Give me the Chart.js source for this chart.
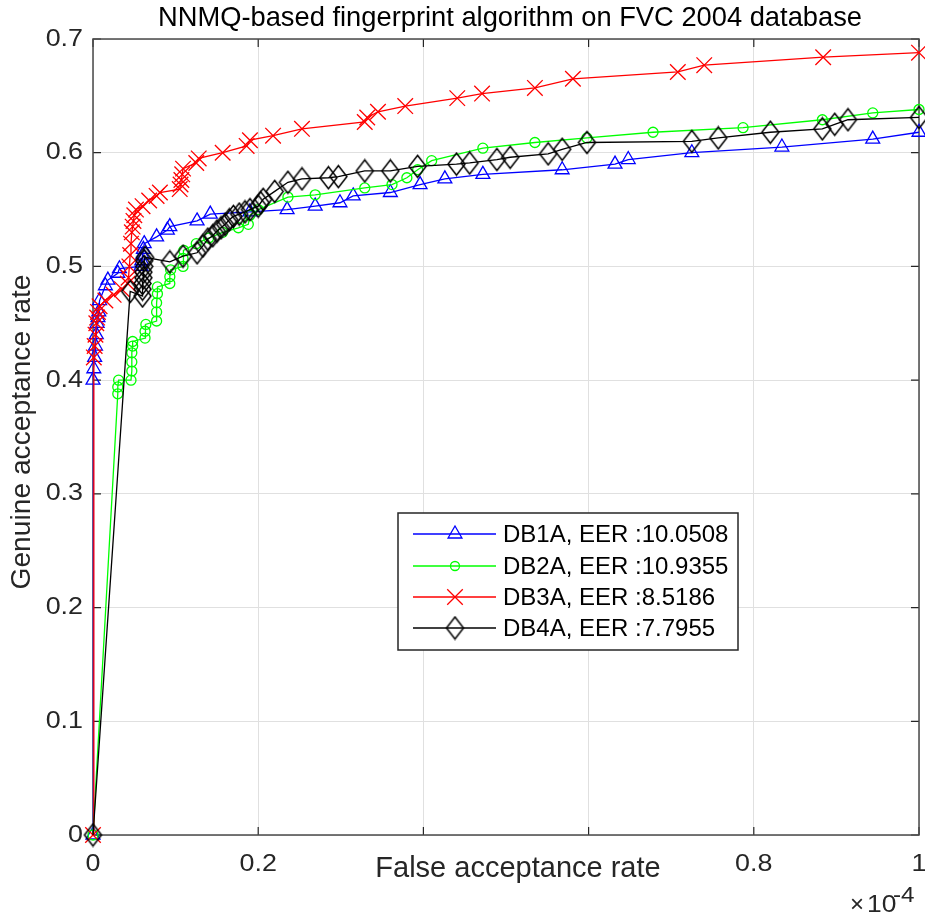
<!DOCTYPE html>
<html><head><meta charset="utf-8">
<script src="https://cdn.jsdelivr.net/npm/chart.js@4/dist/chart.umd.min.js"></script>
<style>html,body{margin:0;padding:0;background:#fff;overflow:hidden;}#wrap{width:925px;height:918px;}canvas{display:block;}</style>
</head><body><div id="wrap"><canvas id="c" width="925" height="918"></canvas></div>
<script>
// ---------- data ----------
const chartTitle = 'NNMQ-based fingerprint algorithm on FVC 2004 database';
const xAxisLabel = 'False acceptance rate';
const yAxisLabel = 'Genuine acceptance rate';
const xTicks = [0, 0.2, 0.4, 0.6, 0.8, 1];
const xTickLabels = ['0', '0.2', '0.4', '0.6', '0.8', '1'];
const yTicks = [0, 0.1, 0.2, 0.3, 0.4, 0.5, 0.6, 0.7];
const yTickLabels = ['0', '0.1', '0.2', '0.3', '0.4', '0.5', '0.6', '0.7'];
const xExponent = '-4';
const seriesNames = ['DB1A, EER :10.0508', 'DB2A, EER :10.9355', 'DB3A, EER :8.5186', 'DB4A, EER :7.7955'];

const db1aFar = [0, 0, 0.001, 0.002, 0.003, 0.004, 0.005, 0.006, 0.007, 0.008, 0.015, 0.018, 0.03, 0.032, 0.058, 0.059, 0.06, 0.061, 0.062, 0.077, 0.09, 0.093, 0.126, 0.142, 0.19, 0.235, 0.269, 0.299, 0.315, 0.36, 0.396, 0.426, 0.472, 0.568, 0.632, 0.648, 0.725, 0.834, 0.944, 1.0];
const db1aGar = [0, 0.40, 0.41, 0.42, 0.43, 0.44, 0.45, 0.455, 0.46, 0.47, 0.483, 0.488, 0.494, 0.498, 0.50, 0.505, 0.51, 0.515, 0.52, 0.526, 0.532, 0.535, 0.540, 0.546, 0.548, 0.550, 0.553, 0.556, 0.562, 0.565, 0.572, 0.577, 0.581, 0.585, 0.590, 0.594, 0.600, 0.605, 0.612, 0.618];

const db2aFar = [0, 0.03, 0.03, 0.031, 0.046, 0.047, 0.047, 0.047, 0.048, 0.048, 0.063, 0.063, 0.064, 0.077, 0.077, 0.077, 0.078, 0.078, 0.093, 0.093, 0.094, 0.109, 0.109, 0.11, 0.125, 0.14, 0.157, 0.176, 0.188, 0.19, 0.2, 0.236, 0.269, 0.329, 0.362, 0.38, 0.393, 0.41, 0.472, 0.535, 0.598, 0.678, 0.787, 0.883, 0.944, 1.0];
const db2aGar = [0, 0.388, 0.394, 0.40, 0.40, 0.408, 0.416, 0.424, 0.43, 0.434, 0.437, 0.443, 0.449, 0.452, 0.46, 0.468, 0.476, 0.482, 0.485, 0.491, 0.497, 0.50, 0.507, 0.514, 0.52, 0.525, 0.53, 0.534, 0.537, 0.545, 0.55, 0.561, 0.563, 0.569, 0.572, 0.578, 0.585, 0.593, 0.604, 0.609, 0.613, 0.618, 0.622, 0.629, 0.635, 0.638];

const db3aFar = [0, 0.001, 0.002, 0.003, 0.004, 0.005, 0.006, 0.008, 0.015, 0.025, 0.035, 0.042, 0.043, 0.044, 0.045, 0.046, 0.047, 0.048, 0.049, 0.05, 0.052, 0.06, 0.068, 0.077, 0.081, 0.105, 0.106, 0.107, 0.108, 0.109, 0.125, 0.128, 0.157, 0.186, 0.19, 0.218, 0.253, 0.329, 0.332, 0.345, 0.378, 0.441, 0.471, 0.535, 0.581, 0.708, 0.740, 0.884, 1.0];
const db3aGar = [0, 0.42, 0.43, 0.44, 0.45, 0.455, 0.46, 0.465, 0.47, 0.475, 0.48, 0.485, 0.49, 0.50, 0.51, 0.52, 0.53, 0.535, 0.54, 0.545, 0.55, 0.553, 0.558, 0.562, 0.565, 0.568, 0.572, 0.576, 0.581, 0.586, 0.591, 0.595, 0.6, 0.606, 0.611, 0.615, 0.621, 0.627, 0.631, 0.636, 0.641, 0.648, 0.652, 0.657, 0.665, 0.671, 0.677, 0.684, 0.688];

const db4aFar = [0, 0.045, 0.06, 0.06, 0.06, 0.061, 0.061, 0.062, 0.062, 0.063, 0.093, 0.109, 0.126, 0.133, 0.139, 0.145, 0.15, 0.155, 0.16, 0.165, 0.17, 0.177, 0.184, 0.19, 0.2, 0.203, 0.206, 0.22, 0.236, 0.253, 0.285, 0.297, 0.329, 0.36, 0.393, 0.44, 0.456, 0.489, 0.505, 0.551, 0.568, 0.598, 0.725, 0.757, 0.82, 0.883, 0.898, 0.914, 1.0];
const db4aGar = [0, 0.478, 0.474, 0.48, 0.485, 0.49, 0.495, 0.50, 0.505, 0.508, 0.504, 0.509, 0.512, 0.518, 0.524, 0.527, 0.531, 0.534, 0.537, 0.541, 0.544, 0.546, 0.548, 0.55, 0.553, 0.556, 0.559, 0.566, 0.574, 0.577, 0.578, 0.579, 0.584, 0.584, 0.588, 0.59, 0.591, 0.594, 0.596, 0.599, 0.603, 0.609, 0.61, 0.613, 0.618, 0.621, 0.625, 0.629, 0.631];

// ---------- styling ----------
const FONT = "'Liberation Sans', Arial, Helvetica, sans-serif";
const AXIS_COLOR = '#262626';

function makeDiamond() {
  const c = document.createElement('canvas');
  c.width = 21; c.height = 25;
  const g = c.getContext('2d');
  g.strokeStyle = '#000';
  g.lineWidth = 1.5;
  g.beginPath();
  g.moveTo(10.5, 1.5); g.lineTo(19, 12.5); g.lineTo(10.5, 23.5); g.lineTo(2, 12.5); g.closePath();
  g.stroke();
  return c;
}
const diamondImg = makeDiamond();

function zip(xs, ys) { return xs.map((x, i) => ({ x: x, y: ys[i] })); }

const styles = [
  { color: '#0000ff', pointStyle: 'triangle', radius: 8 },
  { color: '#00ff00', pointStyle: 'circle', radius: 5 },
  { color: '#ff0000', pointStyle: 'crossRot', radius: 11 },
  { color: '#000000', pointStyle: diamondImg, radius: 10 }
];
const seriesData = [zip(db1aFar, db1aGar), zip(db2aFar, db2aGar), zip(db3aFar, db3aGar), zip(db4aFar, db4aGar)];

const datasets = seriesData.map((d, i) => ({
  label: seriesNames[i],
  data: d,
  showLine: true,
  borderColor: styles[i].color,
  backgroundColor: 'rgba(0,0,0,0)',
  borderWidth: 1.3,
  pointStyle: styles[i].pointStyle,
  pointRadius: styles[i].radius,
  pointBorderColor: styles[i].color,
  pointBackgroundColor: 'rgba(0,0,0,0)',
  pointBorderWidth: 1.3,
  clip: false,
  order: 4 - i
}));

function drawText(ctx, text, x, y, size, align, baseline, color, sx) {
  ctx.save();
  ctx.font = size + 'px ' + FONT;
  ctx.fillStyle = color || AXIS_COLOR;
  ctx.textAlign = align;
  ctx.textBaseline = baseline;
  ctx.translate(x, y);
  ctx.scale(sx || 1, 1);
  ctx.fillText(text, 0, 0);
  ctx.restore();
}

const framePlugin = {
  id: 'frame',
  beforeDatasetsDraw(chart) {
    const { ctx, chartArea: a, scales } = chart;
    ctx.save();
    ctx.strokeStyle = AXIS_COLOR;
    ctx.lineWidth = 1.2;
    ctx.beginPath();
    const T = 8;
    xTicks.forEach(v => {
      const px = scales.x.getPixelForValue(v);
      ctx.moveTo(px, a.bottom); ctx.lineTo(px, a.bottom - T);
      ctx.moveTo(px, a.top); ctx.lineTo(px, a.top + T);
    });
    yTicks.forEach(v => {
      const py = scales.y.getPixelForValue(v);
      ctx.moveTo(a.left, py); ctx.lineTo(a.left + T, py);
      ctx.moveTo(a.right, py); ctx.lineTo(a.right - T, py);
    });
    ctx.stroke();
    ctx.strokeStyle = '#4a4a4a';
    ctx.lineWidth = 1.5;
    ctx.strokeRect(a.left, a.top, a.right - a.left, a.bottom - a.top);
    ctx.restore();
  },
  afterDraw(chart) {
    const { ctx, chartArea: a, scales } = chart;
    // tick labels
    xTicks.forEach((v, i) => {
      drawText(ctx, xTickLabels[i], scales.x.getPixelForValue(v), 864, 24, 'center', 'middle', AXIS_COLOR, 1.12);
    });
    yTicks.forEach((v, i) => {
      drawText(ctx, yTickLabels[i], a.left - 10, scales.y.getPixelForValue(v), 24, 'right', 'middle', AXIS_COLOR, 1.12);
    });
    // exponent
    drawText(ctx, '\u00d7', 864, 912, 24, 'right', 'alphabetic');
    drawText(ctx, '10', 867, 912, 24, 'left', 'alphabetic', AXIS_COLOR, 1.1);
    drawText(ctx, xExponent, 893, 902, 22, 'left', 'alphabetic', AXIS_COLOR, 1.1);
    // title
    drawText(ctx, chartTitle, (a.left + a.right) / 2 + 4, 18, 27.3, 'center', 'middle', '#000');
    // x axis label (with background, covering the inner tick labels as in the source)
    ctx.save();
    ctx.font = '29px ' + FONT;
    const xlw = ctx.measureText(xAxisLabel).width;
    ctx.restore();
    const xlc = (a.left + a.right) / 2 + 12;
    ctx.save();
    ctx.fillStyle = '#fff';
    ctx.fillRect(xlc - xlw / 2 - 6, 846, xlw + 12, 36);
    ctx.restore();
    drawText(ctx, xAxisLabel, xlc, 869, 29, 'center', 'middle');
    ctx.save();
    ctx.translate(22, (a.top + a.bottom) / 2 - 5);
    ctx.rotate(-Math.PI / 2);
    drawText(ctx, yAxisLabel, 0, 0, 28.2, 'center', 'middle');
    ctx.restore();
    // legend
    const L = { x: 398, y: 513, w: 340, h: 137 };
    ctx.save();
    ctx.fillStyle = '#fff';
    ctx.fillRect(L.x, L.y, L.w, L.h);
    ctx.strokeStyle = '#262626';
    ctx.lineWidth = 1.5;
    ctx.strokeRect(L.x, L.y, L.w, L.h);
    ctx.restore();
    const rows = [534, 566, 597, 628];
    datasets.forEach((ds, i) => {
      const y = rows[i];
      ctx.save();
      ctx.strokeStyle = ds.borderColor;
      ctx.lineWidth = 1.3;
      ctx.beginPath(); ctx.moveTo(413, y); ctx.lineTo(496, y); ctx.stroke();
      ctx.strokeStyle = ds.pointBorderColor;
      ctx.fillStyle = 'rgba(0,0,0,0)';
      ctx.lineWidth = 1.3;
      Chart.helpers.drawPoint(ctx, { pointStyle: ds.pointStyle, radius: (i === 1 ? 4.5 : ds.pointRadius), rotation: 0, borderWidth: 1.3 }, 455, y);
      ctx.restore();
      drawText(ctx, ds.label, 503, y + 1, 24, 'left', 'middle', '#000');
    });
  }
};

new Chart(document.getElementById('c'), {
  type: 'scatter',
  data: { datasets: datasets },
  options: {
    responsive: false,
    animation: false,
    events: [],
    devicePixelRatio: 1,
    layout: { autoPadding: false, padding: { left: 0, right: 6, top: 39, bottom: 0 } },
    plugins: { legend: { display: false }, tooltip: { enabled: false }, title: { display: false } },
    scales: {
      x: {
        type: 'linear', min: 0, max: 1,
        afterBuildTicks: s => { s.ticks = xTicks.map(v => ({ value: v })); },
        afterFit: s => { s.height = 83; },
        ticks: { display: false },
        grid: { color: '#e0e0e0', lineWidth: 1, drawTicks: false },
        border: { display: false }
      },
      y: {
        type: 'linear', min: 0, max: 0.7,
        afterBuildTicks: s => { s.ticks = yTicks.map(v => ({ value: v })); },
        afterFit: s => { s.width = 93; },
        ticks: { display: false },
        grid: { color: '#e0e0e0', lineWidth: 1, drawTicks: false },
        border: { display: false }
      }
    }
  },
  plugins: [framePlugin]
});
</script></body></html>
